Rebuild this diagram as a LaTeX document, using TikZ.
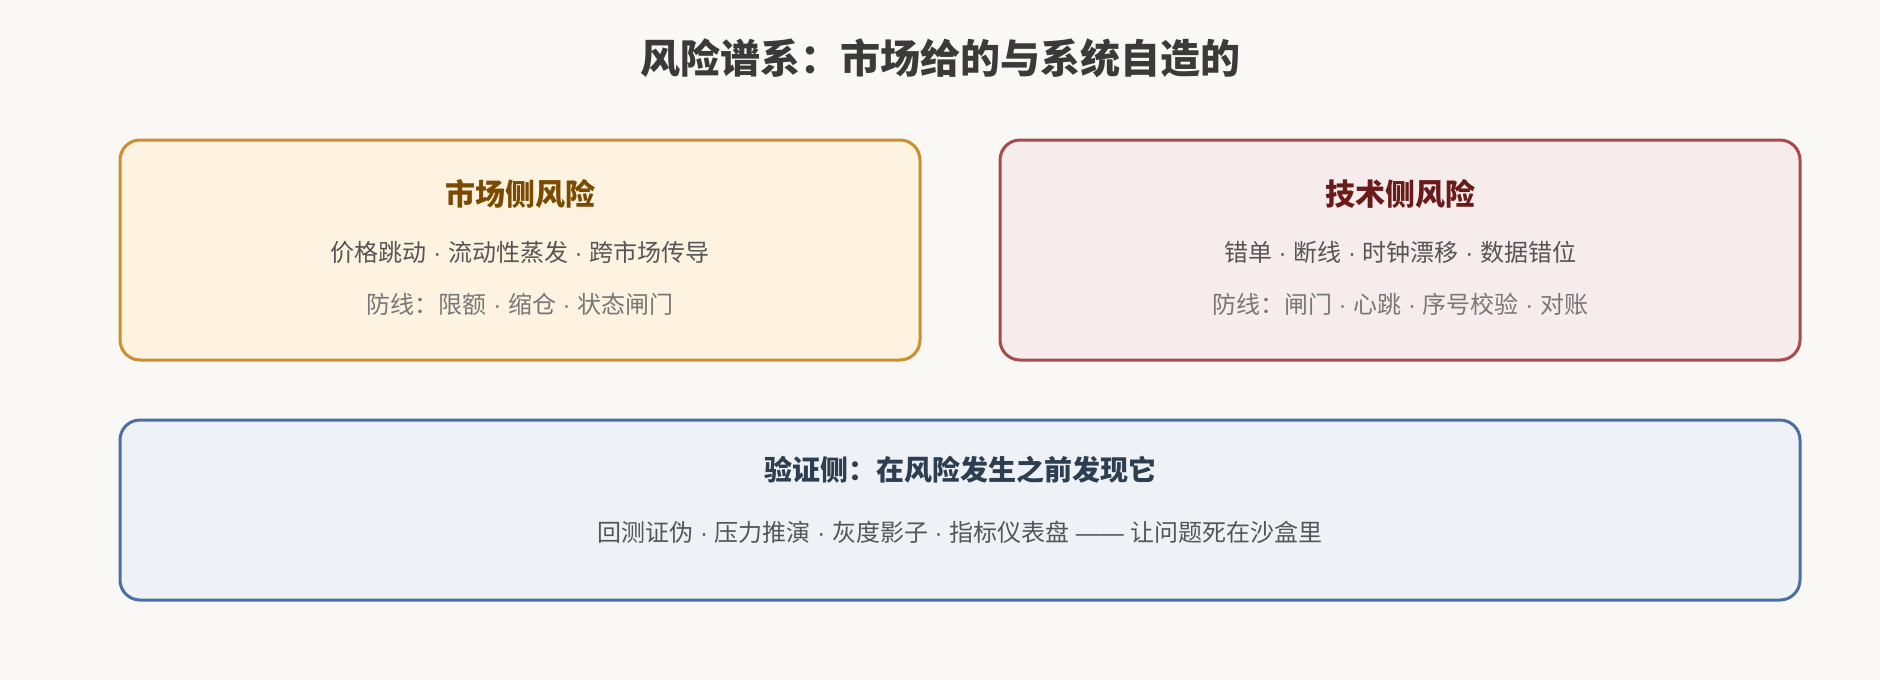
\documentclass[tikz,border=0pt]{standalone}
\usepackage{fontspec}
\setmainfont{Noto Sans CJK SC}
\newfontfamily\latinfont{Liberation Sans}
\usepackage{tikz}
\newcommand{\dotsep}{{\latinfont\ ·\ }}
\newcommand{\dashsep}{{\latinfont\ ——\ }}
\definecolor{bgpage}{HTML}{FAF8F4}
\definecolor{headgray}{HTML}{3A3A3A}
\definecolor{mktline}{HTML}{CC8E2E}
\definecolor{mktfill}{HTML}{FEF3E0}
\definecolor{mkttext}{HTML}{7A4A00}
\definecolor{techline}{HTML}{A84A4A}
\definecolor{techfill}{HTML}{F7ECEC}
\definecolor{techtext}{HTML}{6B1A1A}
\definecolor{verline}{HTML}{4A6FA5}
\definecolor{verfill}{HTML}{EEF2F7}
\definecolor{vertext}{HTML}{2C3E50}
\definecolor{itemgray}{HTML}{555555}
\definecolor{guardgray}{HTML}{777777}

\begin{document}
\begin{tikzpicture}[x=1pt, y=-1pt,
	riskbox/.style={draw, line width=3pt, rounded corners=20pt, inner sep=0pt},
	boxhead/.style={font=\fontsize{30}{35}\selectfont\bfseries},
	items/.style={font=\fontsize{24}{28}\selectfont, text=itemgray},
	guards/.style={font=\fontsize{24}{28}\selectfont, text=guardgray}]
	\fill[bgpage] (0,0) rectangle (1880,680);
	\useasboundingbox (0,0) rectangle (1880,680);
	\node (title) [font=\fontsize{40}{47}\selectfont\bfseries, text=headgray] at (940,58) {风险谱系：市场给的与系统自造的};

	\node (mkt) [riskbox, color=mktline, fill=mktfill, minimum width=800pt, minimum height=220pt] at (520,250) {};
	\node (mkt-h) [boxhead, text=mkttext] at (520,194) {市场侧风险};
	\node (mkt-i) [items] at (520,252) {价格跳动\dotsep 流动性蒸发\dotsep 跨市场传导};
	\node (mkt-g) [guards] at (520,304) {防线：限额\dotsep 缩仓\dotsep 状态闸门};

	\node (tech) [riskbox, color=techline, fill=techfill, minimum width=800pt, minimum height=220pt] at (1400,250) {};
	\node (tech-h) [boxhead, text=techtext] at (1400,194) {技术侧风险};
	\node (tech-i) [items] at (1400,252) {错单\dotsep 断线\dotsep 时钟漂移\dotsep 数据错位};
	\node (tech-g) [guards] at (1400,304) {防线：闸门\dotsep 心跳\dotsep 序号校验\dotsep 对账};

	\node (ver) [riskbox, color=verline, fill=verfill, minimum width=1680pt, minimum height=180pt] at (960,510) {};
	\node (ver-h) [font=\fontsize{28}{33}\selectfont\bfseries, text=vertext] at (960,470) {验证侧：在风险发生之前发现它};
	\node (ver-i) [items] at (960,532) {回测证伪\dotsep 压力推演\dotsep 灰度影子\dotsep 指标仪表盘\dashsep 让问题死在沙盒里};
\end{tikzpicture}
\end{document}
